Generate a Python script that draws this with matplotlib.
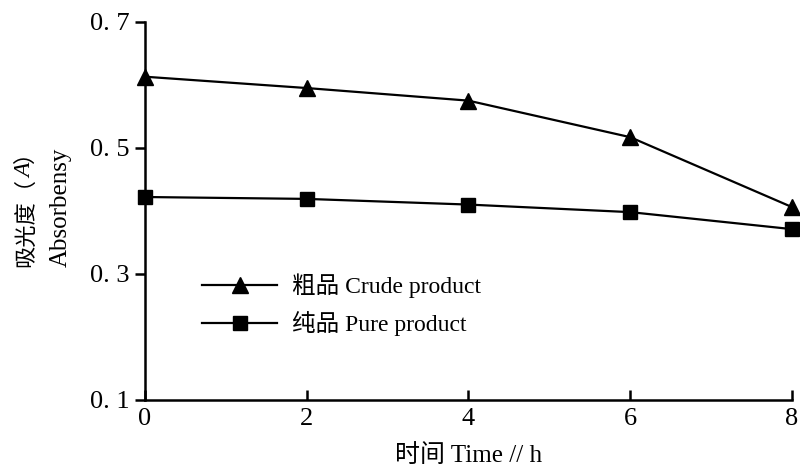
import matplotlib
matplotlib.use("Agg")
import matplotlib.pyplot as plt

plt.rcParams['font.family'] = ['Liberation Serif', 'Noto Sans CJK SC', 'DejaVu Sans']

time_h = [0, 2, 4, 6, 8]
crude = [0.613, 0.595, 0.575, 0.517, 0.406]
pure = [0.422, 0.419, 0.410, 0.398, 0.371]
x_ticks = [0, 2, 4, 6, 8]
y_ticks = [0.1, 0.3, 0.5, 0.7]
y_tick_labels = ['0. 1', '0. 3', '0. 5', '0. 7']
crude_label = '粗品 Crude product'
pure_label = '纯品 Pure product'

fig = plt.figure(figsize=(8, 4.76), dpi=100)
ax = fig.add_axes([0.181, 0.160, 0.809, 0.794])

ax.plot(time_h, crude, color='black', lw=1.6, marker='^', markersize=11, label=crude_label, clip_on=False, zorder=3)
ax.plot(time_h, pure, color='black', lw=1.6, marker='s', markersize=10, label=pure_label, clip_on=False, zorder=3)

ax.set_xlim(0, 8)
ax.set_ylim(0.1, 0.7)
ax.set_xticks(x_ticks)
ax.set_yticks(y_ticks)
ax.set_yticklabels(y_tick_labels)
ax.spines['top'].set_visible(False)
ax.spines['right'].set_visible(False)
for s in ['left', 'bottom']:
    ax.spines[s].set_linewidth(1.8)
ax.tick_params(axis='x', direction='in', length=7, width=1.8, labelsize=19, pad=6)
ax.tick_params(axis='y', direction='out', length=7, width=1.8, labelsize=19, pad=4)

ax.set_xlabel('时间 Time // h', fontsize=18, labelpad=10)

# y label, first line with italic A, built from pieces
fig.canvas.draw()
r = fig.canvas.get_renderer()
fam = ['Noto Sans CJK SC', 'Liberation Serif']
t1 = fig.text(0.032, 0.44, '吸光度（', rotation=90, fontsize=16, ha='center', va='bottom', family=fam)
bb = t1.get_window_extent(r)
y2 = bb.y1 / fig.bbox.height
t2 = fig.text(0.032, y2, 'A', rotation=90, fontsize=17, ha='center', va='bottom',
              family='Liberation Serif', style='italic')
bb2 = t2.get_window_extent(r)
y3 = bb2.y1 / fig.bbox.height
fig.text(0.032, y3, '）', rotation=90, fontsize=16, ha='center', va='bottom', family=fam)

fig.text(0.076, 0.565, 'Absorbensy', rotation=90, fontsize=18, ha='center', va='center')

leg = ax.legend(loc='upper left', bbox_to_anchor=(0.07, 0.365), frameon=False, fontsize=17,
                handlelength=3.2, handletextpad=0.6, labelspacing=0.55, borderpad=0)

fig.savefig('out.png', dpi=100)
